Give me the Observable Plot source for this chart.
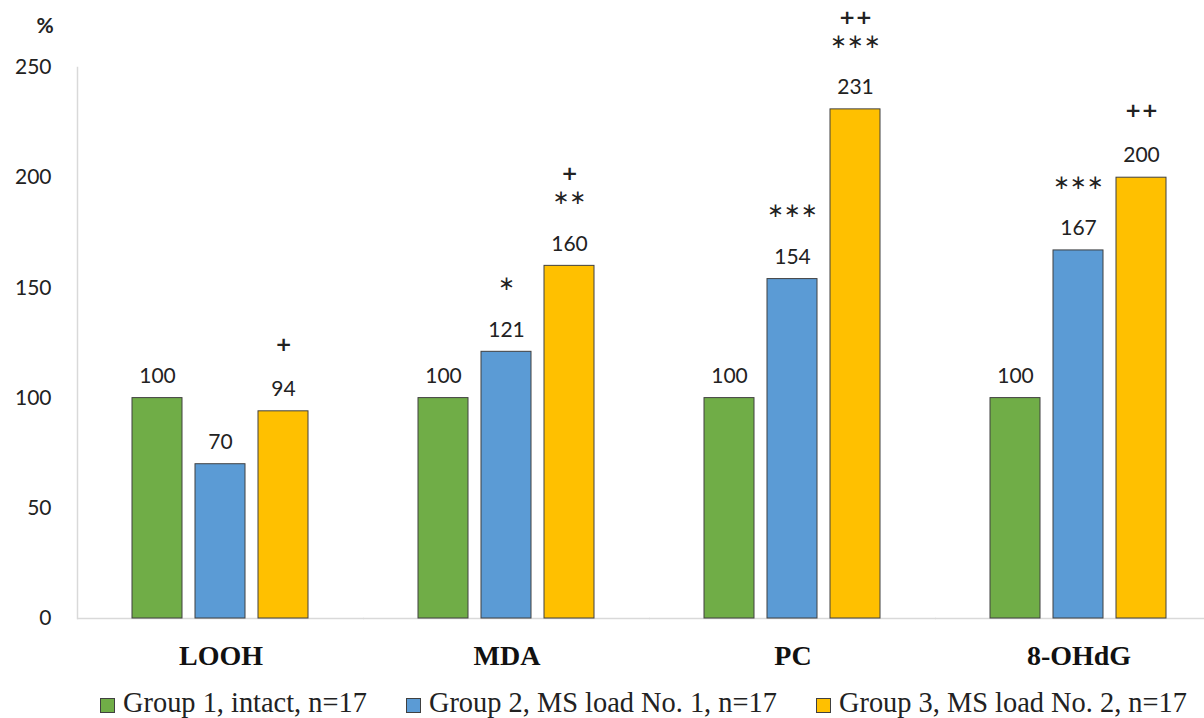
<!DOCTYPE html>
<html>
<head>
<meta charset="utf-8">
<script src="https://cdn.jsdelivr.net/npm/d3@7"></script>
<script src="https://cdn.jsdelivr.net/npm/@observablehq/plot@0.6"></script>
<style>
  html, body { margin: 0; padding: 0; background: #fff; }
  #chart { width: 1204px; height: 718px; position: relative; overflow: hidden; }
  #chart svg { display: block; }
  .legend { display: flex; align-items: center; gap: 39px; margin-left: 100px; height: 30px;
            font-family: "Liberation Serif", "Times New Roman", serif; font-size: 28.4px; color: #222; }
  .legend .item { display: flex; align-items: center; gap: 8px; white-space: nowrap; }
  .legend .sw { width: 13px; height: 13px; border: 1px solid #404040; display: inline-block; margin-top: 4px; }
</style>
</head>
<body>
<div id="chart"></div>
<script>
// ---- data ----
const categories = ["LOOH", "MDA", "PC", "8-OHdG"];
const groups = ["Group 1, intact, n=17", "Group 2, MS load No. 1, n=17", "Group 3, MS load No. 2, n=17"];
const colors = ["#70AD47", "#5B9BD5", "#FFC000"];
const group1 = [100, 100, 100, 100];
const group2 = [70, 121, 154, 167];
const group3 = [94, 160, 231, 200];
const sigGroup2 = ["", "*", "***", "***"];
const sigGroup3 = ["+", "**", "***", "++"];
const sigGroup3Top = ["", "+", "++", ""];
const yTicks = [0, 50, 100, 150, 200, 250];

const series = [group1, group2, group3];
const sigLow = [categories.map(() => ""), sigGroup2, sigGroup3];
const sigHigh = [categories.map(() => ""), categories.map(() => ""), sigGroup3Top];
const data = categories.flatMap((c, i) => groups.map((g, j) => ({
  category: c, group: g, value: series[j][i], sig: sigLow[j][i], sigTop: sigHigh[j][i]
})));

const numFont = "Lato, 'Open Sans', sans-serif";
const serif = "'Liberation Serif', 'Times New Roman', serif";
const symFont = "'DejaVu Sans', sans-serif";
const star = s => s.replace(/\*/g, "\u2217");

const chart = Plot.plot({
  width: 1204,
  height: 688,
  marginLeft: 76,
  marginRight: 0,
  marginTop: 67,
  marginBottom: 70,
  fx: { domain: categories, range: [76, 1222], paddingInner: 0.375, paddingOuter: 0.189, label: null },
  x: { domain: groups, paddingInner: 0.2, paddingOuter: 0, axis: null },
  y: { domain: [0, 250], axis: null },
  color: { domain: groups, range: colors },
  style: { fontFamily: numFont, color: "#222", background: "#fff", overflow: "visible" },
  marks: [
    Plot.ruleY([0], { stroke: "#d9d9d9", strokeWidth: 1.5, insetLeft: -54, insetRight: -54 }),
    Plot.frame({ anchor: "left", stroke: "#d9d9d9", strokeWidth: 1.5, insetLeft: -54, facetAnchor: "left" }),
    Plot.axisY({ ticks: yTicks, tickSize: 0, tickPadding: 80, fontSize: 21, label: null, fill: "#222" }),
    Plot.barY(data, { fx: "category", x: "group", y: "value", fill: "group", stroke: "#404040", strokeWidth: 1 }),
    Plot.text(data, { fx: "category", x: "group", y: "value", text: d => String(d.value), dy: -22, fontSize: 21, fill: "#222" }),
    // significance marks: asterisks (vs group 1) and plus signs (vs group 2)
    Plot.text(data, { filter: d => d.sig.includes("*"), fx: "category", x: "group", y: "value",
      text: d => star(d.sig), dy: -68, fontSize: 20, fontFamily: symFont, fill: "#222" }),
    Plot.text(data, { filter: d => d.sig.includes("+"), fx: "category", x: "group", y: "value",
      text: "sig", dy: -67, fontSize: 20, fontWeight: "bold", fontFamily: symFont, fill: "#222" }),
    Plot.text(data, { filter: d => d.sigTop !== "", fx: "category", x: "group", y: "value",
      text: "sigTop", dy: -92, fontSize: 20, fontWeight: "bold", fontFamily: symFont, fill: "#222" }),
    Plot.axisFx({ anchor: "bottom", tickSize: 0, tickPadding: 27, fontSize: 28, fontWeight: "bold",
      fontFamily: serif, fill: "#111", label: null }),
    Plot.text(["%"], { frameAnchor: "top-left", facetAnchor: "left", dx: -95, dy: -49, fontSize: 21, fontWeight: "bold", fill: "#222" })
  ]
});

const root = document.getElementById("chart");
root.appendChild(chart);

const legend = document.createElement("div");
legend.className = "legend";
groups.forEach((g, i) => {
  const item = document.createElement("div");
  item.className = "item";
  const sw = document.createElement("span");
  sw.className = "sw";
  sw.style.background = colors[i];
  const t = document.createElement("span");
  t.textContent = g;
  item.appendChild(sw);
  item.appendChild(t);
  legend.appendChild(item);
});
root.appendChild(legend);
</script>
</body>
</html>
